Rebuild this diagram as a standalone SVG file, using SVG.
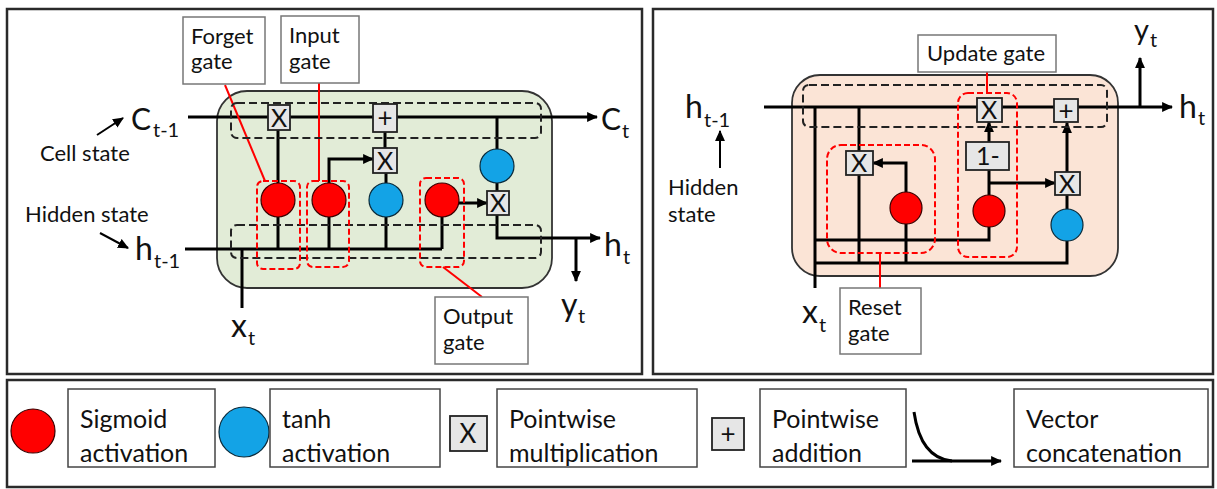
<svg xmlns="http://www.w3.org/2000/svg" width="1217" height="489" viewBox="0 0 1217 489">
<defs>
<marker id="ah" viewBox="0 0 10 9" refX="9" refY="4.5" markerWidth="11" markerHeight="10" markerUnits="userSpaceOnUse" orient="auto"><path d="M0,0 L10,4.5 L0,9 z" fill="#000"/></marker>
<style>
.panel{fill:#fff;stroke:#2a2a2a;stroke-width:2.5}
.ln{fill:none;stroke:#000;stroke-width:3}
.ar{fill:none;stroke:#000;stroke-width:3;marker-end:url(#ah)}
.thin{fill:none;stroke:#000;stroke-width:2;marker-end:url(#ah)}
.dash{fill:none;stroke:#222;stroke-width:2;stroke-dasharray:8 4}
.rdash{fill:none;stroke:#f00;stroke-width:2;stroke-dasharray:6 3}
.rl{fill:none;stroke:#f00;stroke-width:2}
.sig{fill:#f00;stroke:#3a0000;stroke-width:1.2}
.tanh{fill:#13a3e6;stroke:#0a2a3a;stroke-width:1.2}
.op{fill:#e6e6e6;stroke:#222;stroke-width:1.8}
.lbl{fill:#fff;stroke:#777;stroke-width:1.5}
.lgb{fill:#fff;stroke:#444;stroke-width:1.5}
text{font-family:Lato,"Liberation Sans",sans-serif;fill:#111}
.t{font-size:22px}
.big{font-size:32px}
.sub{font-size:20px}
.opt{font-size:25px;text-anchor:middle}
.plus{font-size:26px;text-anchor:middle}
.lg{font-size:25px}
</style>
</defs>
<rect width="1217" height="489" fill="#fff"/>
<g id="frames">
<rect class="panel" x="7" y="9" width="635" height="365"/>
<rect class="panel" x="653" y="9" width="560" height="365"/>
<rect class="panel" x="7" y="380" width="1206" height="107"/>
</g>
<g id="lstm-cell">
<rect x="217" y="91" width="335" height="197" rx="30" fill="#e2ecd7" stroke="#333" stroke-width="1.8"/>
</g>
<g id="gru-cell">
<rect x="792" y="75" width="326" height="201" rx="28" fill="#fbe4d6" stroke="#333" stroke-width="1.8"/>
</g>
<g id="connectors">
<path class="ar" d="M188 117 H597"/>
<path class="ln" d="M185 249 H442"/>
<path class="ln" d="M242 249 V308"/>
<path class="ln" d="M278 130 V249"/>
<path class="ar" d="M329 249 V159 H373"/>
<path class="ln" d="M386 249 V173"/>
<path class="ln" d="M385 148 V132"/>
<path class="ln" d="M442 249 V200"/>
<path class="ar" d="M458 203 H487"/>
<path class="ln" d="M497 117 V191"/>
<path class="ar" d="M497 215 V238 H600"/>
<path class="ar" d="M576 238 V281"/>
<path class="thin" d="M97 135 L123 118"/>
<path class="thin" d="M100 233 L128 248"/>
<path class="rl" d="M225 85 L265 181"/>
<path class="rl" d="M319 83 V181"/>
<path class="rl" d="M443 267 L482 297"/>
<path class="ar" d="M764 107 H1172"/>
<path class="ar" d="M1140 107 V58"/>
<path class="ln" d="M815 107 V288"/>
<path class="ln" d="M859 107 V152"/>
<path class="ln" d="M859 175 V263"/>
<path class="ar" d="M906 263 V163 H873"/>
<path class="ln" d="M815 240 H989 V211"/>
<path class="ln" d="M815 263 H1067 V225"/>
<path class="ln" d="M989 195 V170"/>
<path class="ar" d="M989 183 H1055"/>
<path class="ar" d="M989 142 V122"/>
<path class="ar" d="M1067 172 V123"/>
<path class="ln" d="M1067 225 V195"/>
<path class="thin" d="M720 168 V131"/>
<path class="rl" d="M987 72 V93"/>
<path class="rl" d="M880 253 V288"/>
<path class="ln" d="M914 412 C918 440 930 459 952 461"/>
<path class="ar" d="M912 461 H1001"/>
</g>
<g id="lstm-regions">
<rect class="dash" x="231" y="103" width="310" height="35" rx="6"/>
<rect class="dash" x="231" y="225" width="310" height="33" rx="6"/>
<rect class="rdash" x="257" y="181" width="43" height="88" rx="6"/>
<rect class="rdash" x="307" y="181" width="42" height="86" rx="6"/>
<rect class="rdash" x="420" y="178" width="44" height="89" rx="6"/>
</g>
<g id="gru-regions">
<rect class="dash" x="803" y="85" width="304" height="42" rx="6"/>
<rect class="rdash" x="827" y="145" width="108" height="108" rx="14"/>
<rect class="rdash" x="958" y="93" width="59" height="164" rx="10"/>
</g>
<g id="lstm-forget-mul"><rect class="op" x="268" y="105" width="22" height="25"/><text class="opt" x="279" y="127">X</text></g>
<g id="lstm-add"><rect class="op" x="373" y="104" width="24" height="28"/><text class="plus" x="385" y="127">+</text></g>
<g id="lstm-input-mul"><rect class="op" x="373" y="148" width="24" height="25"/><text class="opt" x="385" y="170">X</text></g>
<g id="lstm-out-mul"><rect class="op" x="487" y="191" width="22" height="24"/><text class="opt" x="498" y="212">X</text></g>
<g id="lstm-forget-sig"><circle class="sig" cx="278" cy="200" r="17"/></g>
<g id="lstm-input-sig"><circle class="sig" cx="329" cy="200" r="17"/></g>
<g id="lstm-input-tanh"><circle class="tanh" cx="386" cy="200" r="17"/></g>
<g id="lstm-output-sig"><circle class="sig" cx="442" cy="200" r="17"/></g>
<g id="lstm-cell-tanh"><circle class="tanh" cx="497" cy="166" r="17"/></g>
<g id="gru-reset-mul"><rect class="op" x="846" y="151" width="27" height="24"/><text class="opt" x="859" y="172">X</text></g>
<g id="gru-update-mul"><rect class="op" x="977" y="98" width="25" height="24"/><text class="opt" x="989" y="119">X</text></g>
<g id="gru-add"><rect class="op" x="1054" y="99" width="24" height="23"/><text class="plus" x="1066" y="120">+</text></g>
<g id="gru-one-minus"><rect class="op" x="966" y="142" width="43" height="28"/><text class="opt" x="988" y="165">1-</text></g>
<g id="gru-cand-mul"><rect class="op" x="1055" y="172" width="25" height="23"/><text class="opt" x="1067" y="193">X</text></g>
<g id="gru-reset-sig"><circle class="sig" cx="906" cy="208" r="16"/></g>
<g id="gru-update-sig"><circle class="sig" cx="989" cy="211" r="16"/></g>
<g id="gru-tanh"><circle class="tanh" cx="1067" cy="225" r="16"/></g>
<g id="label-forget"><rect class="lbl" x="183" y="17" width="82" height="67"/><text class="t" x="191" y="44">Forget</text><text class="t" x="191" y="69">gate</text></g>
<g id="label-input"><rect class="lbl" x="281" y="16" width="78" height="67"/><text class="t" x="289" y="43">Input</text><text class="t" x="289" y="69">gate</text></g>
<g id="label-output"><rect class="lbl" x="435" y="297" width="93" height="67"/><text class="t" x="443" y="324">Output</text><text class="t" x="443" y="350">gate</text></g>
<g id="label-update"><rect class="lbl" x="918" y="35" width="138" height="37"/><text class="t" x="927" y="61">Update gate</text></g>
<g id="label-reset"><rect class="lbl" x="840" y="288" width="81" height="66"/><text class="t" x="848" y="315">Reset</text><text class="t" x="848" y="341">gate</text></g>
<g id="lstm-texts">
<text x="131" y="130"><tspan class="big" style="font-size:30px">C</tspan><tspan class="sub" x="153" y="137">t-1</tspan></text>
<text class="t" x="40" y="161">Cell state</text>
<text class="t" x="25" y="222">Hidden state</text>
<text x="135" y="260"><tspan class="big">h</tspan><tspan class="sub" x="154" y="268">t-1</tspan></text>
<text x="231" y="337"><tspan class="big">x</tspan><tspan class="sub" x="248" y="345">t</tspan></text>
<text x="601" y="130"><tspan class="big" style="font-size:30px">C</tspan><tspan class="sub" x="622" y="138">t</tspan></text>
<text x="604" y="256"><tspan class="big">h</tspan><tspan class="sub" x="623" y="264">t</tspan></text>
<text x="561" y="316"><tspan class="big">y</tspan><tspan class="sub" x="578" y="323">t</tspan></text>
</g>
<g id="gru-texts">
<text x="685" y="118"><tspan class="big">h</tspan><tspan class="sub" x="704" y="127">t-1</tspan></text>
<text class="t" x="668" y="195">Hidden</text>
<text class="t" x="668" y="222">state</text>
<text x="802" y="323"><tspan class="big">x</tspan><tspan class="sub" x="819" y="332">t</tspan></text>
<text x="1179" y="118"><tspan class="big">h</tspan><tspan class="sub" x="1198" y="125">t</tspan></text>
<text x="1134" y="40"><tspan class="big" style="font-size:29px">y</tspan><tspan class="sub" x="1150" y="47">t</tspan></text>
</g>
<g id="legend-sigmoid"><circle class="sig" cx="33" cy="431" r="22"/><rect class="lgb" x="68" y="389" width="147" height="78"/><text class="lg" x="80" y="428">Sigmoid</text><text class="lg" x="80" y="462">activation</text></g>
<g id="legend-tanh"><circle class="tanh" cx="244" cy="432" r="25"/><rect class="lgb" x="270" y="389" width="170" height="78"/><text class="lg" x="282" y="428">tanh</text><text class="lg" x="282" y="462">activation</text></g>
<g id="legend-mul"><rect class="op" x="450" y="416" width="37" height="35"/><text class="opt" x="468" y="443" style="font-size:26px">X</text><rect class="lgb" x="497" y="389" width="200" height="78"/><text class="lg" x="509" y="428">Pointwise</text><text class="lg" x="509" y="462">multiplication</text></g>
<g id="legend-add"><rect class="op" x="712" y="418" width="32" height="32"/><text class="plus" x="728" y="443">+</text><rect class="lgb" x="760" y="389" width="146" height="78"/><text class="lg" x="772" y="428">Pointwise</text><text class="lg" x="772" y="462">addition</text></g>
<g id="legend-concat"><rect class="lgb" x="1014" y="389" width="194" height="78"/><text class="lg" x="1026" y="428">Vector</text><text class="lg" x="1026" y="462">concatenation</text></g>
</svg>
